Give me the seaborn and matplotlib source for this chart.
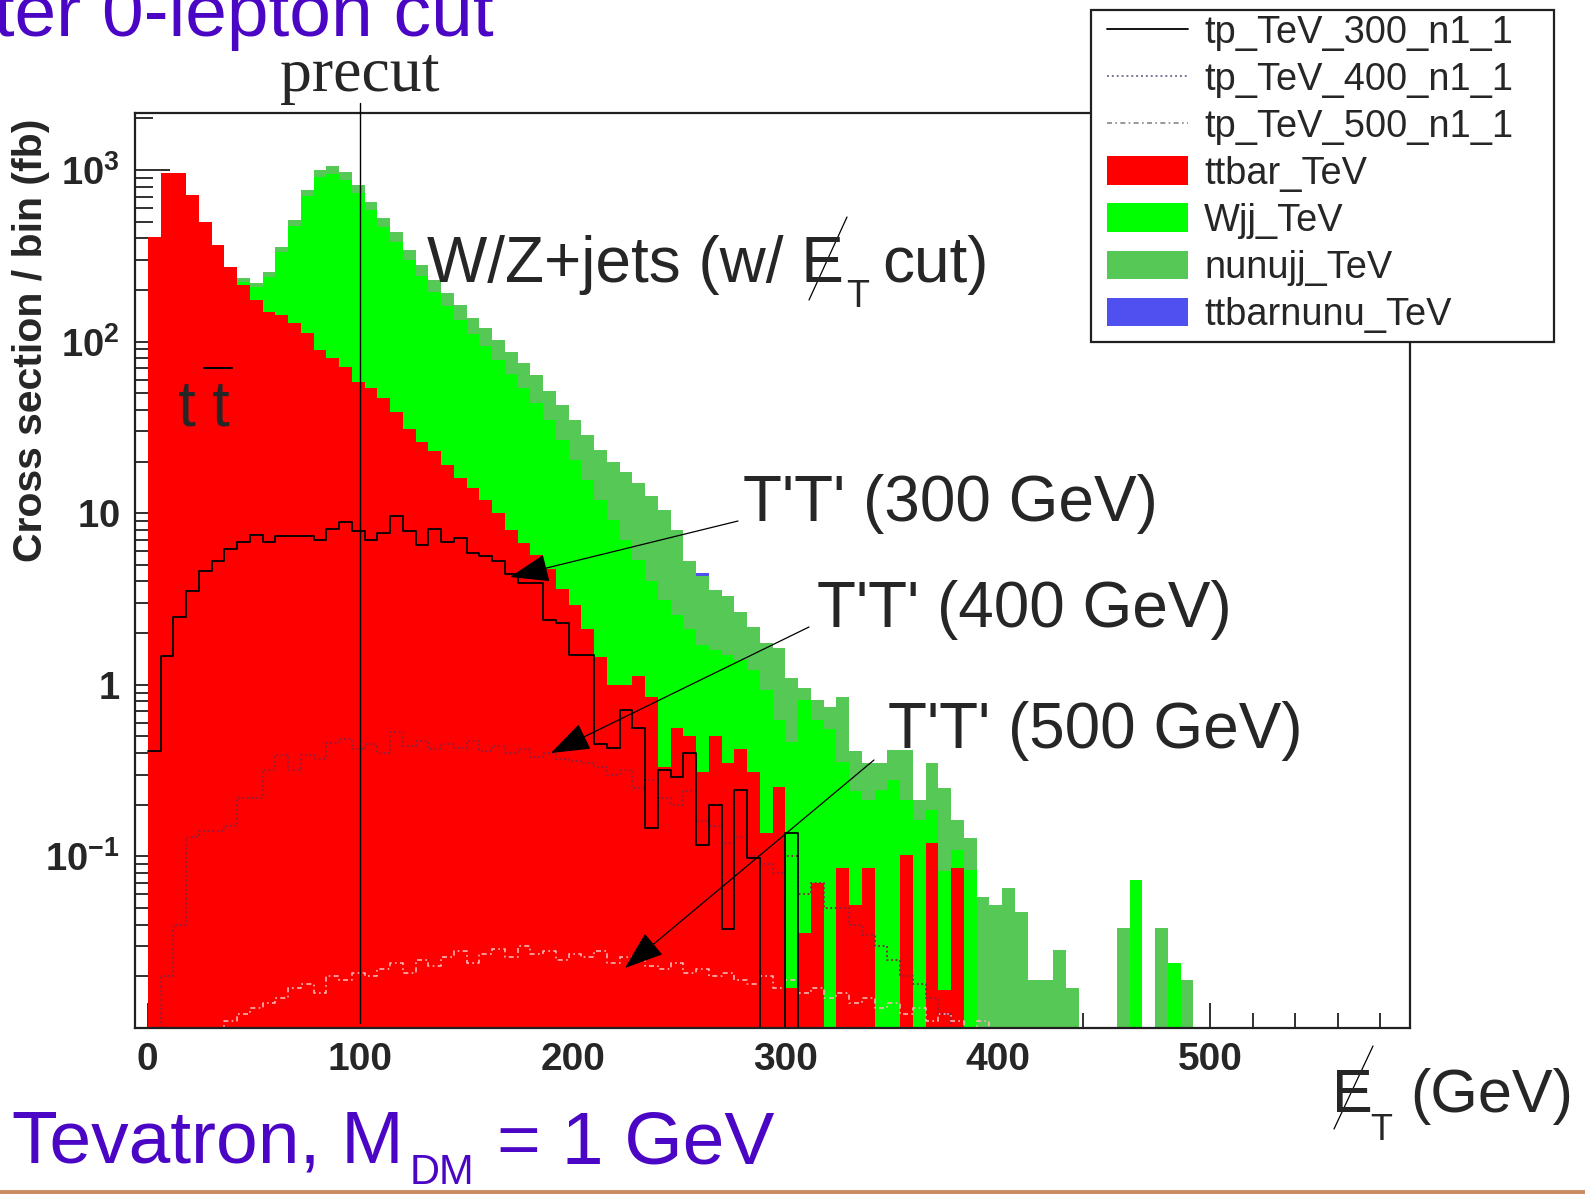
import matplotlib
matplotlib.use("Agg")
import matplotlib.pyplot as plt
import seaborn as sns
import pandas as pd
from matplotlib.lines import Line2D
from matplotlib.patches import Patch, Rectangle
from matplotlib.ticker import FixedLocator, FixedFormatter, NullFormatter

W, H = 1585, 1194

# ---------------- data (6 GeV bins, 0 .. 594 GeV) ----------------
bin_edges = list(range(0, 600, 6))

ttbar = [408, 961, 961, 714, 498, 366, 272, 214, 175, 149,
         143, 128, 112, 89, 80, 71, 58, 54, 47, 39,
         31, 26, 23, 19, 16, 14, 12, 10, 8.0, 6.7,
         5.7, 4.7, 3.6, 2.9, 2.1, 1.45, 1.0, 1.0, 1.12, 0.85,
         0.33, 0.56, 0.50, 0.31, 0.50, 0.35, 0.42, 0.31, 0.137, 0.254,
         0.017, 0.036, 0.070, 0, 0.086, 0.052, 0.086, 0, 0, 0.102,
         0, 0.12, 0.0167, 0.086, 0, 0, 0, 0, 0, 0,
         0, 0, 0, 0, 0, 0, 0, 0, 0, 0,
         0, 0, 0, 0, 0, 0, 0, 0, 0, 0,
         0, 0, 0, 0, 0, 0, 0, 0, 0]

wjj = [0, 0, 0, 0, 0, 0, 0, 8, 33, 89,
       190, 344, 594, 821, 868, 803, 676, 531, 419, 341,
       268, 215, 172, 142, 118, 97, 82, 68, 57, 47,
       38, 30, 23, 17.5, 13.5, 10.5, 8.1, 6.0, 4.2, 3.2,
       2.8, 2.0, 1.6, 1.39, 1.1, 1.15, 0.97, 0.91, 0.79, 0.37,
       0.45, 0.78, 0.55, 0.55, 0.27, 0.19, 0.127, 0.244, 0.279, 0.111,
       0.163, 0.066, 0.066, 0.023, 0.083, 0, 0, 0, 0, 0,
       0, 0, 0, 0, 0, 0, 0, 0.073, 0, 0,
       0.0239, 0, 0, 0, 0, 0, 0, 0, 0, 0,
       0, 0, 0, 0, 0, 0, 0, 0, 0]

nunujj = [0, 0, 0, 0, 0, 0, 0, 13, 12, 17,
          23, 39, 59, 90, 107, 99, 84, 66, 59, 55,
          43, 39, 34, 31, 29, 26, 26, 24, 22, 21,
          20, 17, 16, 14.5, 13, 11.5, 10.8, 10.4, 9.7, 8.6,
          7.3, 5.45, 3.2, 2.6, 1.97, 1.77, 1.26, 0.94, 0.82, 1.02,
          0.63, 0.14, 0.195, 0.19, 0.49, 0.17, 0.137, 0.106, 0.138, 0.204,
          0.05, 0.164, 0.167, 0.054, 0.045, 0.058, 0.052, 0.0655, 0.0474, 0.0191,
          0.0191, 0.0285, 0.0171, 0, 0, 0, 0.0383, 0, 0, 0.0383,
          0, 0.0191, 0, 0, 0, 0, 0, 0, 0, 0,
          0, 0, 0, 0, 0, 0, 0, 0, 0]

ttbarnunu = [0] * 43 + [0.2] + [0] * 55

tp300 = [0.41, 1.47, 2.48, 3.5, 4.6, 5.3, 6.2, 6.8, 7.5, 6.8,
         7.4, 7.4, 7.4, 7.0, 8.1, 8.9, 7.9, 7.0, 7.7, 9.6,
         7.9, 6.5, 8.1, 6.8, 7.2, 5.9, 5.6, 5.3, 4.4, 3.9,
         3.9, 2.4, 2.3, 1.5, 1.5, 0.45, 0.43, 0.71, 0.56, 0.147,
         0.32, 0.29, 0.40, 0.116, 0.20, 0.038, 0.244, 0.098, 0, 0,
         0.137, 0, 0, 0, 0, 0, 0, 0, 0, 0,
         0, 0, 0, 0, 0, 0, 0, 0, 0, 0,
         0, 0, 0, 0, 0, 0, 0, 0, 0, 0,
         0, 0, 0, 0, 0, 0, 0, 0, 0, 0,
         0, 0, 0, 0, 0, 0, 0, 0, 0]

tp400 = [0, 0.02, 0.04, 0.13, 0.14, 0.14, 0.15, 0.22, 0.22, 0.32,
         0.39, 0.32, 0.39, 0.37, 0.46, 0.48, 0.42, 0.45, 0.40, 0.53,
         0.44, 0.47, 0.42, 0.45, 0.43, 0.47, 0.41, 0.44, 0.40, 0.42,
         0.38, 0.40, 0.37, 0.36, 0.35, 0.33, 0.30, 0.32, 0.25, 0.28,
         0.22, 0.20, 0.24, 0.16, 0.15, 0.12, 0.13, 0.10, 0.09, 0.08,
         0.10, 0.06, 0.07, 0.05, 0.05, 0.04, 0.035, 0.03, 0.025, 0.02,
         0.018, 0.015, 0.012, 0, 0, 0, 0, 0, 0, 0,
         0, 0, 0, 0, 0, 0, 0, 0, 0, 0,
         0, 0, 0, 0, 0, 0, 0, 0, 0, 0,
         0, 0, 0, 0, 0, 0, 0, 0, 0]

tp500 = [0, 0, 0, 0, 0, 0, 0.011, 0.012, 0.013, 0.014,
         0.015, 0.017, 0.018, 0.016, 0.020, 0.019, 0.021, 0.020, 0.022, 0.024,
         0.021, 0.025, 0.023, 0.026, 0.028, 0.024, 0.027, 0.029, 0.026, 0.030,
         0.027, 0.028, 0.025, 0.027, 0.026, 0.028, 0.024, 0.026, 0.025, 0.023,
         0.022, 0.024, 0.021, 0.022, 0.020, 0.021, 0.019, 0.018, 0.020, 0.017,
         0.019, 0.016, 0.017, 0.015, 0.016, 0.014, 0.015, 0.013, 0.014, 0.012,
         0.013, 0.011, 0.012, 0.011, 0.010, 0.011, 0, 0, 0, 0,
         0, 0, 0, 0, 0, 0, 0, 0, 0, 0,
         0, 0, 0, 0, 0, 0, 0, 0, 0, 0,
         0, 0, 0, 0, 0, 0, 0, 0, 0]

legend_labels = ["tp_TeV_300_n1_1", "tp_TeV_400_n1_1", "tp_TeV_500_n1_1",
                 "ttbar_TeV", "Wjj_TeV", "nunujj_TeV", "ttbarnunu_TeV"]
x_ticks = [0, 100, 200, 300, 400, 500]
y_ticks = [0.1, 1, 10, 100, 1000]
y_ticklabels = [r"$\mathbf{10}^{\mathbf{-1}}$", r"$\mathbf{1}$", r"$\mathbf{10}$",
                r"$\mathbf{10}^{\mathbf{2}}$", r"$\mathbf{10}^{\mathbf{3}}$"]

# ---------------- style ----------------
sns.set_theme(style="white")
plt.rcParams['font.family'] = ['Liberation Sans', 'DejaVu Sans']
plt.rcParams['mathtext.fontset'] = 'custom'
plt.rcParams['mathtext.rm'] = 'Liberation Sans'
plt.rcParams['mathtext.bf'] = 'Liberation Sans:bold'
plt.rcParams['mathtext.it'] = 'Liberation Sans:italic'

C_TT, C_W, C_NN, C_TN = '#ff0000', '#00ff00', '#55c855', '#5050f0'
PURPLE = '#4b05c4'

def F(x, y):
    return (x / W, 1 - y / H)

fig = plt.figure(figsize=(W / 100, H / 100), dpi=100)
fig.patch.set_facecolor('white')
ax = fig.add_axes([135 / W, 1 - 1028 / H, (1410 - 135) / W, (1028 - 113) / H])

centers = [e + 3 for e in bin_edges[:-1]]
df = pd.DataFrame({'et': centers, 'ttbar': ttbar, 'wjj': wjj, 'nunujj': nunujj,
                   'ttbarnunu': ttbarnunu, 'tp300': tp300, 'tp400': tp400, 'tp500': tp500})
df['c_tt'] = df['ttbar']
df['c_w'] = df['c_tt'] + df['wjj']
df['c_nn'] = df['c_w'] + df['nunujj']
df['c_all'] = df['c_nn'] + df['ttbarnunu']

# stacked histogram drawn as cumulative layers, top layer first
for col, color in [('c_all', C_TN), ('c_nn', C_NN), ('c_w', C_W), ('c_tt', C_TT)]:
    sns.histplot(data=df, x='et', weights=col, bins=bin_edges, element='bars',
                 fill=True, color=color, alpha=1, linewidth=0, edgecolor='none',
                 antialiased=False, ax=ax)

sns.histplot(data=df, x='et', weights='tp500', bins=bin_edges, element='step',
             fill=False, color='#f6b4b4', linewidth=1.2, linestyle=(0, (3, 2, 1, 2)), ax=ax)
sns.histplot(data=df, x='et', weights='tp400', bins=bin_edges, element='step',
             fill=False, color='#8a2040', linewidth=1.3, linestyle=(0, (1, 1.5)), ax=ax)
sns.histplot(data=df, x='et', weights='tp300', bins=bin_edges, element='step',
             fill=False, color='black', linewidth=1.3, ax=ax)

ax.set_yscale('log')
ax.set_xlim(-6, 594)
ax.set_ylim(0.01, 2148)
ax.set_xlabel('')
ax.set_ylabel('')

for s in ax.spines.values():
    s.set_linewidth(1.6)
    s.set_color('#202020')

ax.xaxis.set_major_locator(FixedLocator(x_ticks))
ax.xaxis.set_minor_locator(FixedLocator([v for v in range(0, 600, 20) if v % 100]))
ax.yaxis.set_major_locator(FixedLocator(y_ticks))
minors = [m * 10.0 ** e for e in range(-2, 4) for m in range(2, 10)]
ax.yaxis.set_minor_locator(FixedLocator(minors))
ax.yaxis.set_major_formatter(FixedFormatter(y_ticklabels))
ax.yaxis.set_minor_formatter(NullFormatter())
ax.tick_params(axis='both', which='both', direction='in', color='#202020',
               bottom=True, left=True, top=False, right=False, width=1.3)
ax.tick_params(axis='x', which='major', length=18, pad=10, labelsize=28)
ax.tick_params(axis='x', which='minor', length=11)
ax.tick_params(axis='y', which='major', length=25, pad=11, labelsize=27.5)
ax.tick_params(axis='y', which='minor', length=13)
for lab in ax.get_xticklabels():
    lab.set_fontweight('bold')

# precut line
ax.axvline(100, ymin=0.006, ymax=1.011, color='black', lw=1.0, clip_on=False, zorder=10)

# ---------------- texts ----------------
fig.text(*F(494, 36), "After 0-lepton cut", ha='right', va='baseline', fontsize=54, color=PURPLE)
fig.text(*F(360, 91), "precut", ha='center', va='baseline', fontsize=46,
         family=['Liberation Serif', 'DejaVu Serif'])
fig.text(*F(31, 340), "Cross section / bin (fb)", rotation=90, ha='center', va='center',
         fontsize=29.5, fontweight='bold')

fig.text(*F(12, 1163), "Tevatron, M", ha='left', va='baseline', fontsize=54, color=PURPLE)
fig.text(*F(410, 1184), "DM", ha='left', va='baseline', fontsize=30, color=PURPLE)
fig.text(*F(497, 1163), "= 1 GeV", ha='left', va='baseline', fontsize=54, color=PURPLE)
fig.add_artist(Line2D([0, 1], [1 - 1192 / H, 1 - 1192 / H], transform=fig.transFigure,
                      color='#c98b5f', lw=3.5))

# W/Z+jets label with slashed E_T
fig.text(*F(427, 282), "W/Z+jets (w/ E", ha='left', va='baseline', fontsize=46)
fig.text(*F(846, 307), "T", ha='left', va='baseline', fontsize=27)
fig.text(*F(882, 282), "cut)", ha='left', va='baseline', fontsize=46)
fig.add_artist(Line2D([809 / W, 847 / W], [1 - 300 / H, 1 - 217 / H],
                      transform=fig.transFigure, color='black', lw=0.9))

# t tbar
fig.text(*F(178, 425), "t", ha='left', va='baseline', fontsize=46)
fig.text(*F(212, 425), "t", ha='left', va='baseline', fontsize=46)
fig.add_artist(Line2D([204 / W, 232 / W], [1 - 368 / H, 1 - 368 / H],
                      transform=fig.transFigure, color='black', lw=1.5))

# signal labels + arrows
for txt, tx, ty, start, tip in [("T'T' (300 GeV)", 743, 521, (738, 521), (510, 577)),
                                ("T'T' (400 GeV)", 817, 627, (809, 627), (551, 753)),
                                ("T'T' (500 GeV)", 888, 748, (874, 760), (625, 968))]:
    fig.text(*F(tx, ty), txt, ha='left', va='baseline', fontsize=46)
    ax.annotate('', xy=F(*tip), xycoords='figure fraction',
                xytext=F(*start), textcoords='figure fraction',
                arrowprops=dict(arrowstyle='-|>,head_length=1.0,head_width=0.36',
                                mutation_scale=25, color='black', lw=0.9,
                                shrinkA=0, shrinkB=0), zorder=11)

# x axis label with slashed E_T
fig.text(*F(1332, 1112), "E", ha='left', va='baseline', fontsize=44)
fig.text(*F(1370, 1140), "T", ha='left', va='baseline', fontsize=26)
fig.text(*F(1410, 1112), "(GeV)", ha='left', va='baseline', fontsize=44)
fig.add_artist(Line2D([1334 / W, 1373 / W], [1 - 1129 / H, 1 - 1046 / H],
                      transform=fig.transFigure, color='black', lw=0.9))

# ---------------- legend ----------------
fig.add_artist(Rectangle(F(1091, 342), (1554 - 1091) / W, (342 - 10) / H,
                         transform=fig.transFigure, facecolor='white',
                         edgecolor='#202020', lw=1.6, zorder=4))
handles = [Line2D([], [], color='black', lw=1.3),
           Line2D([], [], color='#777799', lw=1.4, linestyle=(0, (1, 1.5))),
           Line2D([], [], color='#888888', lw=1.2, linestyle=(0, (3, 2, 1, 2))),
           Patch(facecolor=C_TT, edgecolor='none'),
           Patch(facecolor=C_W, edgecolor='none'),
           Patch(facecolor=C_NN, edgecolor='none'),
           Patch(facecolor=C_TN, edgecolor='none')]
leg = fig.legend(handles=handles, labels=legend_labels, loc='upper left',
                 bbox_to_anchor=F(1107, 15), frameon=False, fontsize=27.4,
                 handlelength=2.13, handleheight=0.79, handletextpad=0.42,
                 labelspacing=0.29, borderpad=0, borderaxespad=0)
leg.set_zorder(6)

fig.savefig('out.png', dpi=100)
